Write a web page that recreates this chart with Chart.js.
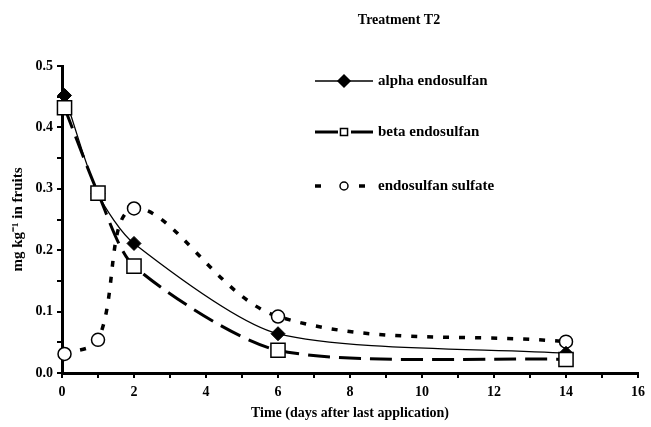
<!DOCTYPE html>
<html>
<head>
<meta charset="utf-8">
<script src="https://cdn.jsdelivr.net/npm/chart.js@4.4.1/dist/chart.umd.min.js"></script>
<style>
  html, body { margin: 0; padding: 0; background: #fff; }
  #wrap { width: 651px; height: 427px; position: relative; }
</style>
</head>
<body>
<div id="wrap"><canvas id="c" width="651" height="427"></canvas></div>
<script>
// ---- data ----
const days = [0.07, 1, 2, 6, 14];
const alphaEndosulfan = [0.452, 0.292, 0.211, 0.064, 0.032];
const betaEndosulfan = [0.432, 0.293, 0.174, 0.037, 0.022];
const endosulfanSulfate = [0.031, 0.054, 0.268, 0.092, 0.051];
const seriesLabels = ['alpha endosulfan', 'beta endosulfan', 'endosulfan sulfate'];
const xTickLabels = [0, 2, 4, 6, 8, 10, 12, 14, 16];
const yTickLabels = [0.0, 0.1, 0.2, 0.3, 0.4, 0.5];
const chartTitle = 'Treatment T2';
const xTitle = 'Time (days after last application)';
const yTitle = 'mg kg\u207B\u00B9 in fruits';

const FONT = "'Liberation Serif', 'Times New Roman', serif";
const toPts = (ys) => ys.map((y, i) => ({ x: days[i], y }));

const legendPlugin = {
  id: 'customLegend',
  afterDraw(chart) {
    const ctx = chart.ctx;
    ctx.save();
    ctx.fillStyle = '#000';
    ctx.font = "bold 14px " + FONT;
    ctx.textAlign = 'center';
    ctx.textBaseline = 'middle';
    ctx.fillText(chartTitle, 399, 20);

    const rows = [81, 132, 186];
    const x0 = 315, x1 = 373, xm = 344;
    const segs = [
      [[x0, x1]],
      [[x0, 338], [351, x1]],
      [[x0, 321], [359, 365]]
    ];
    const markerR = [6, 5, 4];
    seriesLabels.forEach((label, i) => {
      const ds = chart.data.datasets.find(d => d.label === label);
      const y = rows[i];
      ctx.strokeStyle = '#000';
      ctx.lineWidth = ds.borderWidth;
      ctx.setLineDash([]);
      segs[i].forEach(([a, b]) => {
        ctx.beginPath(); ctx.moveTo(a, y); ctx.lineTo(b, y); ctx.stroke();
      });
      ctx.lineWidth = 1.5;
      ctx.fillStyle = ds.pointBackgroundColor;
      ctx.strokeStyle = '#000';
      Chart.helpers.drawPoint(ctx, {
        pointStyle: ds.pointStyle,
        radius: markerR[i],
        borderWidth: 1.5
      }, xm, y);
      ctx.fillStyle = '#000';
      ctx.font = "bold 15px " + FONT;
      ctx.textAlign = 'left';
      ctx.textBaseline = 'middle';
      ctx.fillText(label, 378, y);
    });
    ctx.restore();
  }
};

new Chart(document.getElementById('c'), {
  type: 'line',
  data: {
    datasets: [
      {
        label: seriesLabels[1],
        data: toPts(betaEndosulfan),
        borderColor: '#000', borderWidth: 3, borderDash: [22, 9],
        pointStyle: 'rect', pointRadius: 10, pointBackgroundColor: '#fff',
        pointBorderColor: '#000', pointBorderWidth: 1.5,
        tension: 0.25, clip: false, order: 0
      },
      {
        label: seriesLabels[0],
        data: toPts(alphaEndosulfan),
        borderColor: '#000', borderWidth: 1.3,
        pointStyle: 'rectRot', pointRadius: 7, pointBackgroundColor: '#000',
        pointBorderColor: '#000', pointBorderWidth: 1,
        tension: 0.25, clip: false, order: 1
      },
      {
        label: seriesLabels[2],
        data: toPts(endosulfanSulfate),
        borderColor: '#000', borderWidth: 3.5, borderDash: [6, 10],
        pointStyle: 'circle', pointRadius: 6.5, pointBackgroundColor: '#fff',
        pointBorderColor: '#000', pointBorderWidth: 1.5,
        tension: 0.35, clip: false, order: 2
      }
    ]
  },
  options: {
    responsive: false,
    animation: false,
    devicePixelRatio: 1,
    layout: { padding: { left: 0, right: 10, top: 66, bottom: 0 } },
    plugins: { legend: { display: false }, tooltip: { enabled: false }, title: { display: false } },
    scales: {
      x: {
        type: 'linear', min: 0, max: 16,
        afterFit(s) { s.height = 54; },
        border: { display: true, color: '#000', width: 3 },
        grid: { drawOnChartArea: false, drawTicks: true, tickLength: 5, color: '#000', lineWidth: 2 },
        ticks: {
          stepSize: 1, padding: 6, color: '#000', maxRotation: 0, autoSkip: false,
          font: { family: FONT, size: 14, weight: 'bold' },
          callback: (v) => xTickLabels.includes(v) ? String(v) : ''
        },
        title: { display: true, text: xTitle, color: '#000', padding: { top: 0, bottom: 5 },
                 font: { family: FONT, size: 14, weight: 'bold' } }
      },
      y: {
        type: 'linear', min: 0, max: 0.5,
        afterFit(s) { s.width = 62; },
        border: { display: true, color: '#000', width: 3 },
        grid: { drawOnChartArea: false, drawTicks: true, tickLength: 5, color: '#000', lineWidth: 2 },
        ticks: {
          stepSize: 0.05, padding: 4, color: '#000', autoSkip: false,
          font: { family: FONT, size: 14, weight: 'bold' },
          callback: (v) => {
            const m = yTickLabels.find(t => Math.abs(t - v) < 1e-6);
            return m !== undefined ? m.toFixed(1) : '';
          }
        },
        title: { display: true, text: yTitle, color: '#000', padding: { top: 9, bottom: 0 },
                 font: { family: FONT, size: 15, weight: 'bold' } }
      }
    }
  },
  plugins: [legendPlugin]
});
</script>
</body>
</html>
